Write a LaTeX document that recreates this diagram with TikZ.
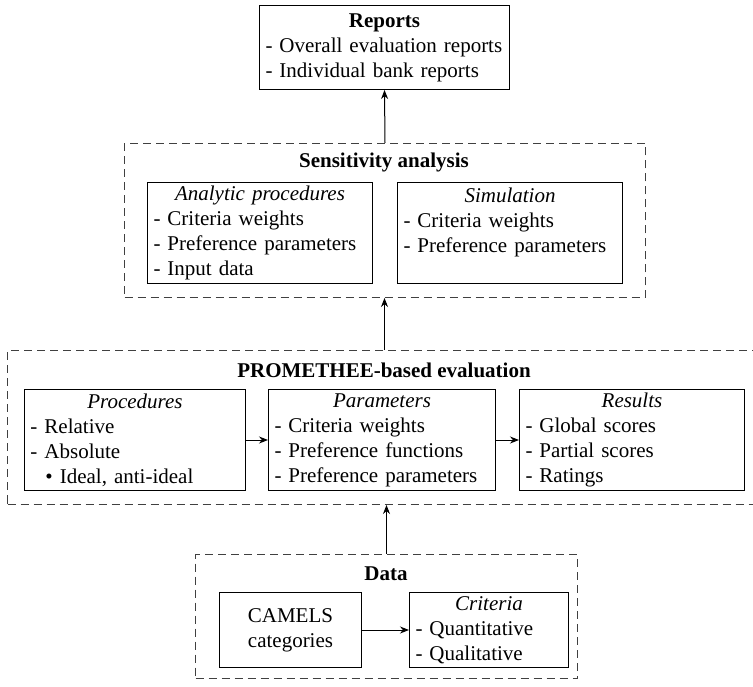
\documentclass[tikz,border=0pt]{standalone}
\usepackage{fontspec}
\setmainfont{Liberation Serif}
\usetikzlibrary{arrows.meta}
\newcommand\fsz{\fontsize{21}{25}\selectfont}
\begin{document}
\begin{tikzpicture}[x=1pt,y=-1pt,
  box/.style={draw, line width=1pt, inner xsep=6pt, inner ysep=0pt, align=left, font=\fsz, anchor=north west},
  group/.style={draw=black!75, dash pattern=on 8pt off 5pt, line width=1pt, inner sep=0pt, anchor=north west},
  gtitle/.style={font=\fsz\bfseries, inner sep=0pt},
  arr/.style={-{Stealth[length=9pt,width=7pt]}, line width=1pt}]
\useasboundingbox (0,0) rectangle (753,687);
\clip (0,0) rectangle (753,687);
% groups
\node[group, minimum width=521, minimum height=154] (sens) at (124,143) {};
\node[group, minimum width=754, minimum height=154] (prom) at (7,350) {};
\node[group, minimum width=382, minimum height=124] (data) at (195,554) {};
\node[gtitle] (senst) at (384,162) {Sensitivity analysis};
\node[gtitle] (promt) at (384,370) {PROMETHEE-based evaluation};
\node[gtitle] (datat) at (386,574) {Data};
% boxes
\node[box, minimum width=250, minimum height=84, text width=238] (reports) at (259,5)
  {\makebox[\linewidth]{\textbf{Reports}}\\- Overall evaluation reports\\- Individual bank reports};
\node[box, minimum width=225, minimum height=101, text width=213] (analytic) at (147,182)
  {\makebox[\linewidth]{\textit{Analytic procedures}}\\- Criteria weights\\- Preference parameters\\- Input data};
\node[box, minimum width=225, minimum height=101, text width=213] (simul) at (397,182)
  {\makebox[\linewidth]{\textit{Simulation}}\\- Criteria weights\\- Preference parameters\\\mbox{}};
\node[box, minimum width=221, minimum height=101, text width=209] (proc) at (24,389)
  {\makebox[\linewidth]{\textit{Procedures}}\\- Relative\\- Absolute\\\hspace*{15pt}• Ideal, anti-ideal};
\node[box, minimum width=227, minimum height=101, text width=215] (param) at (268,389)
  {\makebox[\linewidth]{\textit{Parameters}}\\- Criteria weights\\- Preference functions\\- Preference parameters};
\node[box, minimum width=225, minimum height=101, text width=213] (results) at (519,389)
  {\makebox[\linewidth]{\textit{Results}}\\- Global scores\\- Partial scores\\- Ratings};
\node[box, align=center, minimum width=142, minimum height=75, text width=130] (camels) at (219,592)
  {CAMELS\\categories};
\node[box, minimum width=159, minimum height=75, text width=147] (criteria) at (409,592)
  {\makebox[\linewidth]{\textit{Criteria}}\\- Quantitative\\- Qualitative};
% connectors
\draw[arr] (sens.north) -- (reports.south);
\draw[arr] (prom.north) -- (prom.north |- sens.south);
\draw[arr] (data.north) -- (data.north |- prom.south);
\draw[arr] (proc.east) -- (param.west);
\draw[arr] (param.east) -- (results.west);
\draw[arr] (camels.east) -- (criteria.west);
\end{tikzpicture}
\end{document}
